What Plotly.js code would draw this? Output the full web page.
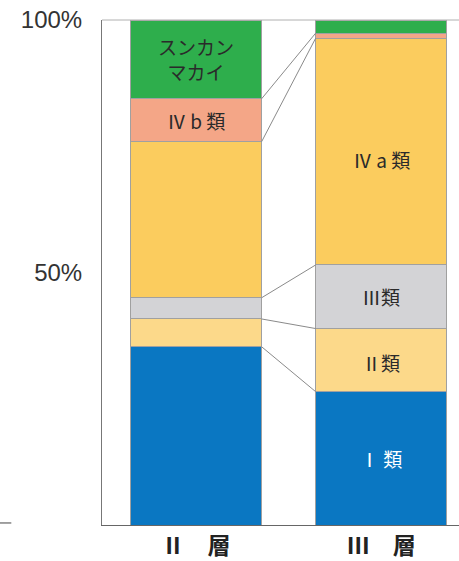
<!DOCTYPE html>
<html>
<head>
<meta charset="utf-8">
<script src="https://cdn.plot.ly/plotly-3.0.1.min.js"></script>
<style>
  html, body { margin: 0; padding: 0; background: #fff; }
  #chart { width: 459px; height: 561px; }
</style>
</head>
<body>
<div id="chart"></div>
<script>
// layers (x categories)
const layers = ['Ⅱ　層', 'Ⅲ　層'];
const layerPos = [0, 1];

// percent of each class per layer, bottom to top
const classNames = ['Ⅰ類', 'Ⅱ類', 'Ⅲ類', 'Ⅳa類', 'Ⅳb類', 'スンカンマカイ'];
const classI   = [35.3, 26.4];
const classII  = [5.5, 12.5];
const classIII = [4.2, 12.6];
const classIVa = [30.9, 44.9];
const classIVb = [8.5, 1.0];
const sunkan   = [15.6, 2.6];

const yTickVals = [50, 100];
const yTickText = ['50%', '100%'];

const colors = ['#0a77c2', '#fcd98a', '#d3d3d6', '#fbcc5e', '#f4a687', '#2eae4c'];
const barW = 0.708;

let series = [classI, classII, classIII, classIVa, classIVb, sunkan];

let traces = series.map((vals, i) => ({
    type: 'bar',
    x: layerPos,
    y: vals,
    width: barW,
    name: classNames[i],
    marker: { color: colors[i], line: { color: '#a0a0a0', width: 1 } },
    hoverinfo: 'name+y'
}));

// cumulative tops per layer
let cum = layerPos.map(() => []);
layerPos.forEach((_, j) => {
    let s = 0;
    series.forEach(vals => { s += vals[j]; cum[j].push(s); });
});

// connector lines between the two stacks (tops of I..IVb)
for (let k = 0; k < 5; k++) {
    traces.push({
        type: 'scatter',
        mode: 'lines',
        x: [layerPos[0] + barW / 2, layerPos[1] - barW / 2],
        y: [cum[0][k], cum[1][k]],
        line: { color: '#8a8a8a', width: 1 },
        hoverinfo: 'skip',
        showlegend: false
    });
}

function mid(j, k) {
    let lo = k === 0 ? 0 : cum[j][k - 1];
    return (lo + cum[j][k]) / 2;
}

const lblFont = { family: '"Noto Sans CJK JP", sans-serif', size: 19, color: '#2a2a2a' };

let annotations = [
    { x: 0, y: mid(0, 5), text: 'スンカン<br>マカイ', font: lblFont },
    { x: 0, y: mid(0, 4), text: 'Ⅳ b 類', font: lblFont },
    { x: 1, y: mid(1, 3), text: 'Ⅳ a 類', font: lblFont, yshift: -8 },
    { x: 1, y: mid(1, 2), text: 'Ⅲ類', font: lblFont },
    { x: 1, y: mid(1, 1), text: 'Ⅱ類', font: lblFont, yshift: -2 },
    { x: 1, y: mid(1, 0), text: 'Ⅰ 類', font: Object.assign({}, lblFont, { color: '#ffffff' }) }
].map(a => Object.assign({ xref: 'x', yref: 'y', showarrow: false }, a));

let layout = {
    width: 459,
    height: 561,
    margin: { l: 102, r: 0, t: 20, b: 36 },
    paper_bgcolor: '#ffffff',
    plot_bgcolor: '#ffffff',
    barmode: 'stack',
    showlegend: false,
    xaxis: {
        range: [-0.508, 1.42],
        tickvals: layerPos,
        ticktext: layers,
        showgrid: false,
        zeroline: false,
        showline: true,
        linecolor: '#666',
        linewidth: 1,
        ticks: '',
        tickfont: { family: '"Noto Sans CJK JP", serif', size: 23, color: '#222', weight: 'bold' }
    },
    yaxis: {
        range: [0, 100],
        tickvals: yTickVals,
        ticktext: yTickText,
        showgrid: false,
        zeroline: false,
        showline: true,
        linecolor: '#777',
        linewidth: 1,
        ticks: '',
        ticklabelstandoff: 14,
        tickfont: { family: '"Liberation Sans", Arial, sans-serif', size: 24, color: '#333' }
    },
    shapes: [
        { type: 'line', xref: 'paper', yref: 'paper', x0: 0, x1: 1, y0: 1, y1: 1,
          line: { color: '#b0b0b0', width: 1 } },
        { type: 'line', xref: 'paper', yref: 'paper', x0: -0.286, x1: -0.254, y0: 0.004, y1: 0.004,
          line: { color: '#444', width: 1 } }
    ],
    annotations: annotations
};

Plotly.newPlot('chart', traces, layout, { displayModeBar: false, staticPlot: true });
</script>
</body>
</html>
